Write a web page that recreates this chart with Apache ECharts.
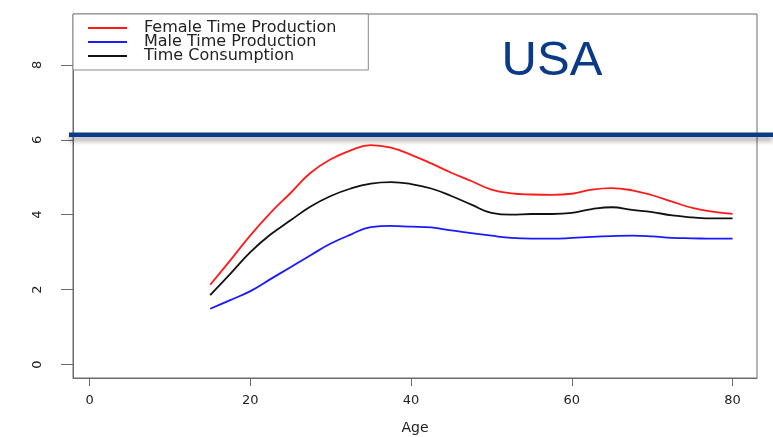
<!DOCTYPE html>
<html>
<head>
<meta charset="utf-8">
<script src="https://cdn.jsdelivr.net/npm/echarts@6/dist/echarts.min.js"></script>
<style>html,body{margin:0;padding:0;background:#fff}#c{width:773px;height:437px}</style>
</head>
<body>
<div id="c"></div>
<script>
const ages = [15,17.5,20,22.5,25,27.5,30,32.5,35,37.5,40,42.5,45,47.5,50,52.5,55,57.5,60,62.5,65,67.5,70,72.5,75,77.5,80];
const femaleProduction = [2.13,2.78,3.45,4.05,4.58,5.12,5.48,5.72,5.86,5.79,5.60,5.37,5.12,4.90,4.67,4.57,4.54,4.53,4.56,4.67,4.71,4.65,4.52,4.35,4.18,4.08,4.02];
const maleProduction = [1.49,1.72,1.96,2.28,2.60,2.92,3.23,3.47,3.67,3.70,3.68,3.66,3.58,3.51,3.44,3.38,3.36,3.36,3.38,3.41,3.43,3.44,3.42,3.38,3.37,3.36,3.36];
const consumption = [1.85,2.42,3.00,3.47,3.85,4.22,4.50,4.70,4.83,4.87,4.82,4.70,4.50,4.27,4.05,4.00,4.02,4.02,4.05,4.15,4.20,4.13,4.07,3.98,3.93,3.90,3.90];
const xTicks = [0,20,40,60,80];
const yTicks = [0,2,4,6,8];
const seriesNames = ['Female Time Production','Male Time Production','Time Consumption'];

const pair = arr => ages.map((a,i)=>[a,arr[i]]);
const font = 'DejaVu Sans';
const chart = echarts.init(document.getElementById('c'), null, {renderer:'canvas'});
chart.setOption({
  animation:false,
  backgroundColor:'#fff',
  grid:{left:73,right:16,top:14,bottom:59,show:true,borderColor:'#6a6a6a',borderWidth:1,containLabel:false,outerBoundsMode:'none'},
  legend:{
    data:seriesNames, orient:'vertical', left:73, top:14,
    padding:[6,32,6,15], itemGap:-2, itemWidth:39, itemHeight:1.8, icon:'rect',
    borderColor:'#8a8a8a', borderWidth:1, backgroundColor:'#fff',
    textStyle:{fontFamily:font,fontSize:16,color:'#222',padding:[0,0,0,12]}
  },
  xAxis:{
    type:'value', min:-2.07, max:83.04, name:'Age', nameLocation:'middle', nameGap:43,
    nameTextStyle:{fontFamily:font,fontSize:14,color:'#222'},
    axisLine:{show:true,onZero:false,lineStyle:{color:'#6a6a6a'}},
    axisTick:{show:true,inside:false,length:8,customValues:xTicks,lineStyle:{color:'#6a6a6a'}},
    axisLabel:{customValues:xTicks,margin:16,fontFamily:font,fontSize:13,color:'#222'},
    splitLine:{show:false}
  },
  yAxis:{
    type:'value', min:-0.36, max:9.36,
    axisLine:{show:true,onZero:false,lineStyle:{color:'#6a6a6a'}},
    axisTick:{show:true,inside:false,length:12,customValues:yTicks,lineStyle:{color:'#6a6a6a'}},
    axisLabel:{customValues:yTicks,rotate:90,margin:29,fontFamily:font,fontSize:13,color:'#222'},
    splitLine:{show:false}
  },
  series:[
    {name:seriesNames[0],type:'line',data:pair(femaleProduction),smooth:0.45,symbol:'none',lineStyle:{color:'#ff1a1a',width:1.8},itemStyle:{color:'#ff1a1a'}},
    {name:seriesNames[1],type:'line',data:pair(maleProduction),smooth:0.45,symbol:'none',lineStyle:{color:'#1a1aff',width:1.8},itemStyle:{color:'#1a1aff'}},
    {name:seriesNames[2],type:'line',data:pair(consumption),smooth:0.45,symbol:'none',lineStyle:{color:'#111',width:1.8},itemStyle:{color:'#111'}}
  ],
  graphic:[
    {type:'rect',shape:{x:69,y:132.5,width:704,height:4.5},style:{fill:'#0b3a88',shadowBlur:5,shadowOffsetY:4,shadowColor:'rgba(0,0,0,0.35)'},z:100},
    {type:'text',x:552,y:61,style:{text:'USA',fontFamily:'Liberation Sans',fontSize:49,fill:'#0b3a88',textAlign:'center',textVerticalAlign:'middle'},z:100}
  ]
});
</script>
</body>
</html>
